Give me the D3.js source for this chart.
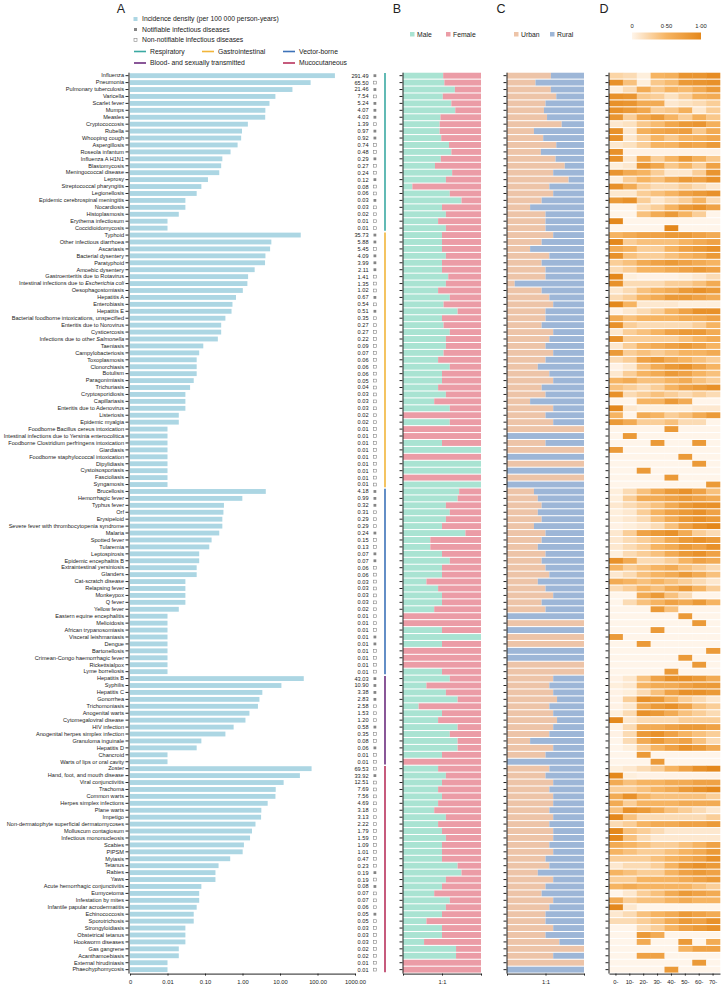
<!DOCTYPE html>
<html><head><meta charset="utf-8">
<script src="https://cdn.jsdelivr.net/npm/d3@7"></script>
<style>body{margin:0;background:#fff}svg{display:block;font-family:"Liberation Sans",Arial,sans-serif}</style>
</head><body><svg id="c" width="722" height="988"></svg>
<script>
const groups = ["Respiratory","Gastrointestinal","Vector-borne","Blood- and sexually transmitted","Mucocutaneous"];
const groupColors = ["#3aa9a2","#f1b53a","#3d72b8","#6b2c7e","#b8325c"];
const groupSizes = [23,37,27,13,30];
const diseases = [
"Influenza","Pneumonia","Pulmonary tuberculosis","Varicella","Scarlet fever","Mumps","Measles","Cryptococcosis","Rubella","Whooping cough","Aspergillosis","Roseola infantum","Influenza A H1N1","Blastomycosis","Meningococcal disease","Leprosy","Streptococcal pharyngitis","Legionellosis","Epidemic cerebrospinal meningitis","Nocardiosis","Histoplasmosis","Erythema infectiosum","Coccidioidomycosis",
"Typhoid","Other infectious diarrhoea","Ascariasis","Bacterial dysentery","Paratyphoid","Amoebic dysentery","Gastroenteritis due to Rotavirus","Intestinal infections due to *Escherichia coli*","Oesophagostomiasis","Hepatitis A","Enterobiasis","Hepatitis E","Bacterial foodborne intoxications, unspecified","Enteritis due to Norovirus","Cysticercosis","Infections due to other *Salmonella*","Taeniasis","Campylobacteriosis","Toxoplasmosis","Clonorchiasis","Botulism","Paragonimiasis","Trichuriasis","Cryptosporidiosis","Capillariasis","Enteritis due to Adenovirus","Listeriosis","Epidemic myalgia","Foodborne Bacillus cereus intoxication","Intestinal infections due to Yersinia enterocolitica","Foodborne Clostridium perfringens intoxication","Giardiasis","Foodborne staphylococcal intoxication","Dipylidiasis","Cystoisosporiasis","Fascioliasis","Syngamosis",
"Brucellosis","Hemorrhagic fever","Typhus fever","Orf","Erysipeloid","Severe fever with thrombocytopenia syndrome","Malaria","Spotted fever","Tularemia","Leptospirosis","Epidemic encephalitis B","Extraintestinal yersiniosis","Glanders","Cat-scratch disease","Relapsing fever","Monkeypox","Q fever","Yellow fever","Eastern equine encephalitis","Melioidosis","African trypanosomiasis","Visceral leishmaniasis","Dengue","Bartonellosis","Crimean-Congo haemorrhagic fever","Rickettsialpox","Lyme borreliosis",
"Hepatitis B","Syphilis","Hepatitis C","Gonorrhea","Trichomoniasis","Anogenital warts","Cytomegaloviral disease","HIV infection","Anogenital herpes simplex infection","Granuloma inguinale","Hepatitis D","Chancroid","Warts of lips or oral cavity",
"Zoster","Hand, foot, and mouth disease","Viral conjunctivitis","Trachoma","Common warts","Herpes simplex infections","Plane warts","Impetigo","Non-dermatophyte superficial dermatomycoses","Molluscum contagiosum","Infectious mononucleosis","Scabies","PIPSM","Myiasis","Tetanus","Rabies","Yaws","Acute hemorrhagic conjunctivitis","Eumycetoma","Infestation by mites","Infantile papular acrodermatitis","Echinococcosis","Sporotrichosis","Strongyloidiasis","Obstetrical tetanus","Hookworm diseases","Gas gangrene","Acanthamoebiasis","External hirudiniasis","Phaeohyphomycosis"];
const incidence = [
291.49,65.50,21.46,7.54,5.24,4.07,4.03,1.39,0.97,0.92,0.74,0.48,0.29,0.27,0.24,0.12,0.08,0.06,0.03,0.03,0.02,0.01,0.01,
35.73,5.88,5.45,4.09,3.99,2.11,1.41,1.35,1.02,0.67,0.54,0.51,0.35,0.27,0.27,0.22,0.09,0.07,0.06,0.06,0.06,0.05,0.04,0.03,0.03,0.03,0.02,0.02,0.01,0.01,0.01,0.01,0.01,0.01,0.01,0.01,0.01,
4.18,0.99,0.32,0.31,0.29,0.29,0.24,0.15,0.13,0.07,0.07,0.06,0.06,0.03,0.03,0.03,0.03,0.02,0.01,0.01,0.01,0.01,0.01,0.01,0.01,0.01,0.01,
43.03,10.90,3.38,2.83,2.58,1.53,1.20,0.58,0.35,0.08,0.06,0.01,0.01,
69.53,33.92,12.51,7.69,7.56,4.69,3.18,3.13,2.22,1.79,1.59,1.09,1.01,0.47,0.23,0.19,0.19,0.08,0.07,0.07,0.06,0.05,0.05,0.03,0.03,0.03,0.02,0.02,0.01,0.01];
const notifiable = [
1,0,1,0,1,1,1,0,1,1,0,0,1,0,0,1,0,0,1,0,0,0,0,
1,1,0,1,1,1,0,0,0,1,0,1,0,0,0,0,0,0,0,0,0,0,0,0,0,0,0,0,0,0,0,0,0,0,0,0,0,
1,1,1,0,0,0,1,0,0,1,1,0,0,0,0,0,0,0,0,0,0,1,1,0,0,0,0,
1,1,1,1,0,0,0,1,0,0,1,0,0,
0,1,0,0,0,0,0,0,0,0,0,0,0,0,0,1,0,1,0,0,0,1,0,0,0,0,0,0,0,0];
const maleShare = [
0.515,0.53,0.665,0.51,0.62,0.67,0.48,0.47,0.47,0.49,0.59,0.62,0.485,0.41,0.63,0.55,0.12,0.6,0.75,0.5,0.55,0.45,0.55,
0.5,0.5,0.5,0.55,0.5,0.5,0.58,0.55,0.45,0.6,0.52,0.7,0.5,0.52,0.6,0.55,0.55,0.52,0.45,0.6,0.5,0.5,0.45,0.55,0.4,0.6,0,0.6,0,0,0.5,1,0,1,1,0,1,
0.72,0.7,0.55,0.6,0.55,0.5,0.8,0.35,0.35,0.5,0.6,0.5,0.5,0.3,0.45,0.5,0.5,0.4,0,0,0.5,1,0.5,0,0,0,0.5,
0.6,0.3,0.55,0.7,0.2,0.5,0.45,0.7,0.6,0.7,0.7,0.5,0,
0.45,0.55,0.5,0.45,0.5,0.45,0.4,0.55,0.45,0.5,0.55,0.5,0.5,0.5,0.7,0.75,0.55,0.5,0.4,0.6,0.55,0.5,0.3,0.5,0.5,0.27,0.68,0.68,0,0];
const urbanShare = [
0.57,0.37,0.57,0.64,0.5,0.48,0.52,0.71,0.35,0.47,0.64,0.44,0.63,0.75,0.6,0.8,0.55,0.6,0.45,0.3,0.5,0.5,0.5,
0.6,0.45,0.3,0.55,0.45,0.5,0.5,0.1,0.45,0.55,0.6,0.5,0.5,0.45,0.6,0.55,0.5,0.6,0.5,0.4,0.55,0.6,0.45,0.5,0.3,0.6,0.5,0.6,1,0,0.5,1,0,1,0,1,0,
0.35,0.4,0.45,0.4,0.45,0.35,0.5,0.45,0.4,0.5,0.45,0.5,0.55,0.4,0.5,0.6,0.45,0.5,0,1,0,1,1,0,0,1,1,
0.6,0.55,0.6,0.65,0.55,0.6,0.65,0.6,0.55,0.3,0.6,0.5,0,
0.55,0.5,0.6,0.55,0.6,0.6,0.55,0.6,0.55,0.6,0.6,0.55,0.6,0.5,0.55,0.4,0.6,0.5,0.45,0.6,0.55,0.5,0.5,0.6,0.5,0.68,1,0.6,1,0];
const ageGroups = ["0-","10-","20-","30-","40-","50-","60-","70-"];
const ageDensity = [
[0.25,0.2,0.05,0.5,0.55,0.85,0.85,0.95],[0.9,0.4,0.05,0.35,0.45,0.8,0.85,0.9],[0.05,0.2,0.6,0.35,0.5,0.45,0.6,0.8],[0.9,0.85,0.35,0.3,0.15,0.3,0.55,0.6],[0.9,0.85,0.6,0.6,0.1,0.15,0.2,0.3],[0.9,0.8,0.65,0.3,0.35,0.55,0.1,0.3],[0.85,0.3,0.65,0.8,0.5,0.3,0.55,0.35],[0.1,0.15,0.35,0.45,0.65,0.8,0.85,0.55],[0.9,0.1,0.55,0.65,0.7,0.75,0.35,0.6],[0.9,0.1,0.3,0.5,0.35,0.5,0.55,0.65],[0.1,0.15,0.3,0.5,0.5,0.7,0.65,0.8],[0.9,0.02,0.02,0.02,0.02,0.02,0.02,0.02],[0.9,0.1,0.65,0.3,0.5,0.8,0.55,0.35],[0.05,0.1,0.85,0.65,0.35,0.5,0.3,0.7],[0.85,0.6,0.5,0.3,0.1,0.1,0.3,0.85],[0.05,0.3,0.5,0.4,0.6,0.8,0.7,0.9],[0.9,0.6,0.3,0.2,0.2,0.3,0.2,0.1],[0.1,0.1,0.3,0.4,0.5,0.7,0.8,0.9],[0.8,0.9,0.3,0.1,0.2,0.3,0.5,0.2],[0,0,0.2,0.3,0.5,0.8,0.9,0.7],[0,0,0.4,0.6,0.8,0.5,0.3,0],[1,0,0,0,0,0,0,0],[0,0,0,0,1,0,0,0],
[0.5,0.6,0.7,0.7,0.8,0.8,0.7,0.6],[1,0.3,0.4,0.4,0.4,0.5,0.6,0.7],[0.6,0.5,0.3,0.3,0.5,0.7,0.8,0.9],[0.9,0.4,0.3,0.3,0.4,0.5,0.6,0.8],[0.3,0.4,0.6,0.7,0.8,0.7,0.6,0.5],[0.2,0.3,0.5,0.5,0.6,0.7,0.8,0.7],[1,0.05,0.02,0.02,0.02,0.05,0.1,0.2],[0.9,0.2,0.2,0.2,0.3,0.3,0.4,0.6],[0.1,0.2,0.4,0.5,0.6,0.8,0.9,0.8],[0.2,0.3,0.5,0.6,0.8,0.8,0.7,0.6],[1,0.5,0.1,0.1,0.1,0.05,0.05,0.05],[0.02,0.1,0.2,0.3,0.5,0.7,0.9,0.9],[0.6,0.4,0.5,0.5,0.5,0.6,0.6,0.7],[0.9,0.3,0.2,0.2,0.2,0.2,0.3,0.5],[0.1,0.3,0.4,0.5,0.7,0.8,0.8,0.6],[0.9,0.3,0.3,0.3,0.3,0.4,0.5,0.6],[0.1,0.3,0.5,0.6,0.7,0.8,0.7,0.5],[0.8,0.3,0.4,0.3,0.4,0.5,0.5,0.6],[0.2,0.3,0.7,0.8,0.6,0.5,0.4,0.3],[0.02,0.1,0.4,0.6,0.8,0.9,0.7,0.5],[0.1,0.3,0.5,0.6,0.8,0.7,0.5,0.4],[0.5,0.6,0.4,0.4,0.5,0.6,0.4,0.3],[0.4,0.3,0.2,0.3,0.5,0.7,0.8,0.9],[0.9,0.2,0.3,0.4,0.3,0.2,0.3,0.2],[0,0,0.5,0.5,0.8,0.6,0,0],[1,0.1,0.05,0.05,0.05,0.05,0.1,0.1],[0.5,0,0.6,0.5,0.3,0.4,0.6,0.8],[0.8,0.6,0.3,0.3,0.4,0.2,0.2,0],[0,0,0,0,0.8,0,0,0],[0,0.8,0,0,0,0,0,0],[0,0,0,0.8,0,0,0.8,0],[0.8,0,0,0,0,0,0,0],[0,0,0,0,0,0.8,0,0],[0,0,0,0,0,0,0.8,0],[0,0,0.8,0,0,0,0,0],[0,0,0,0,0.8,0,0,0],[0,0,0,0,0,0,0,0.8],
[0.05,0.2,0.4,0.6,0.8,0.9,0.7,0.4],[0.05,0.3,0.6,0.6,0.7,0.8,0.7,0.6],[0.1,0.2,0.3,0.4,0.6,0.8,0.9,0.9],[0.05,0.1,0.3,0.5,0.7,0.8,0.9,0.7],[0.05,0.1,0.2,0.4,0.6,0.8,0.9,0.8],[0.02,0.05,0.1,0.2,0.4,0.7,0.9,1],[0.1,0.3,0.7,0.8,0.9,0.6,0.3,0.2],[0.1,0.2,0.3,0.4,0.6,0.8,0.9,0.8],[0.1,0.2,0.3,0.5,0.6,0.8,0.7,0.9],[0.05,0.2,0.3,0.4,0.6,0.8,0.9,0.7],[0.9,0.6,0.2,0.2,0.3,0.5,0.7,0.6],[0.5,0.3,0.4,0.5,0.6,0.4,0.3,0.2],[0.1,0.2,0.4,0.5,0.6,0.8,0.6,0.4],[0.6,0.5,0.4,0.5,0.4,0.3,0.2,0.1],[0.2,0.3,0.5,0.4,0.6,0.8,0.5,0.3],[0,0,0.6,0.8,0.4,0.2,0,0],[0,0.2,0.4,0.5,0.7,0.6,0.8,0.5],[0,0,0,0.8,0.4,0,0,0],[0,0,0,0,0,0.8,0,0],[0,0,0,0,0,0,0.8,0],[0,0,0,0.8,0,0,0,0],[0.8,0,0,0,0,0,0,0],[0,0,0.8,0,0,0,0,0],[0,0,0,0,0,0,0,0.8],[0,0,0,0,0,0.8,0,0],[0,0,0,0,0,0,0.8,0],[0,0,0,0,0.8,0,0,0],
[0.02,0.1,0.4,0.7,0.9,0.9,0.8,0.6],[0.05,0.1,0.5,0.6,0.6,0.7,0.8,0.8],[0.02,0.05,0.2,0.4,0.7,0.9,0.9,0.8],[0.02,0.3,0.9,0.8,0.5,0.3,0.2,0.1],[0.02,0.1,0.6,0.8,0.9,0.7,0.4,0.3],[0.05,0.2,0.9,0.8,0.6,0.4,0.3,0.2],[1,0.1,0.2,0.2,0.2,0.3,0.3,0.3],[0.02,0.2,0.6,0.6,0.7,0.8,0.8,0.7],[0.02,0.2,0.8,0.9,0.7,0.5,0.4,0.3],[0,0.2,0.6,0.8,0.6,0.7,0.4,0.2],[0,0.05,0.3,0.5,0.7,0.9,0.8,0.6],[0,0,0.8,0,0,0,0,0],[0,0,0,0.8,0,0,0,0],
[0.05,0.1,0.2,0.3,0.5,0.7,0.9,1],[1,0.05,0.02,0.02,0.02,0.02,0.02,0.02],[0.6,0.4,0.5,0.5,0.6,0.6,0.7,0.7],[0.3,0.3,0.4,0.5,0.6,0.8,0.9,1],[0.6,0.9,0.5,0.4,0.4,0.4,0.4,0.3],[0.6,0.3,0.5,0.5,0.5,0.6,0.6,0.6],[0.4,0.9,0.8,0.6,0.4,0.3,0.2,0.1],[1,0.4,0.2,0.2,0.2,0.2,0.2,0.3],[0.2,0.3,0.5,0.6,0.6,0.7,0.7,0.8],[1,0.4,0.3,0.2,0.1,0.1,0.1,0.1],[1,0.4,0.2,0.1,0.1,0.1,0.1,0.1],[0.6,0.5,0.4,0.3,0.3,0.4,0.5,0.7],[0.5,0.4,0.3,0.3,0.4,0.5,0.6,0.8],[0.3,0.3,0.3,0.4,0.5,0.6,0.7,0.9],[0.1,0.2,0.2,0.3,0.5,0.8,0.9,0.8],[0.5,0.4,0.3,0.3,0.5,0.7,0.8,0.7],[0.3,0.3,0.5,0.5,0.5,0.6,0.7,0.8],[0.5,0.6,0.5,0.5,0.5,0.5,0.4,0.3],[0,0.1,0.3,0.4,0.6,0.8,0.7,0.6],[0.6,0.3,0.4,0.4,0.5,0.6,0.5,0.5],[1,0.1,0,0,0,0,0,0],[0.1,0.2,0.4,0.5,0.6,0.8,0.7,0.6],[0.2,0.2,0.3,0.4,0.6,0.8,0.7,0.9],[0,0,0.2,0.3,0.5,0.7,0.8,0.9],[0,0,0.8,0.6,0,0,0,0],[0,0,0.6,0,0,0.8,0,0.6],[0,0,0,0,0,0.5,0.7,0.7],[0,0,0.7,0.7,0,0,0,0],[0,0,0,0,0,0,0.8,0],[0,0,0,0,0.8,0,0,0]];
const xTicks = [0.001,0.01,0.1,1,10,100,1000];
const xTickLabels = ["0","0.01","0.10","1.00","10.00","100.00","1000.00"];
const legendTicks = [0,0.5,1];
const legendTickLabels = ["0","0·50","1·00"];

const svg = d3.select("#c");
const N = diseases.length;
const yA = d3.scaleBand().domain(d3.range(N)).range([72.2,973.1]).paddingInner(0.3).paddingOuter(0.15);
const yP = yA.copy().paddingInner(0.15).paddingOuter(0.075);
const xA = d3.scaleLog().domain([0.001,1000]).range([130,355]);
const xB = d3.scaleLinear().domain([0,1]).range([403,481]);
const xC = d3.scaleLinear().domain([0,1]).range([507,584]);
const xD = d3.scaleBand().domain(ageGroups).range([609,720]);
const colD = d3.scaleLinear().domain([0,0.5,1]).range(["#fff5ea","#f6b462","#e4881c"]);
const cBar="#acd6e3", cMale="#a9e3d2", cFemale="#eb9ca6", cUrban="#edc4a8", cRural="#9db6d7";
const txt="#222";

svg.append("g").selectAll("rect").data(incidence).join("rect")
  .attr("x",xA(0.001)).attr("y",(d,i)=>yA(i)).attr("height",yA.bandwidth())
  .attr("width",d=>xA(d)-xA(0.001)).attr("fill",cBar);
const axA = svg.append("g").attr("transform","translate(128.5,0)")
  .call(d3.axisLeft(yA).tickSize(3).tickSizeOuter(0).tickPadding(1.5).tickFormat(i=>diseases[i]));
axA.attr("font-size",5.6).attr("font-family",null);
axA.selectAll("path,line").attr("stroke",txt);
axA.selectAll("text").attr("fill",txt).each(function(i){
  const s=diseases[i]; if(s.indexOf("*")<0) return;
  const t=d3.select(this); t.text(null);
  s.split("*").forEach((p,k)=>{ if(p) t.append("tspan").attr("font-style",k%2?"italic":null).text(p); });
});
const bA = svg.append("g").attr("transform","translate(0,973.6)")
  .call(d3.axisBottom(xA).tickValues(xTicks).tickFormat((d,i)=>xTickLabels[i]).tickSize(2).tickSizeOuter(0).tickPadding(4));
bA.attr("font-size",5.8).attr("font-family",null);
bA.selectAll("path,line").attr("stroke",txt); bA.selectAll("text").attr("fill",txt);
svg.append("g").selectAll("text").data(incidence).join("text")
  .attr("x",368.5).attr("y",(d,i)=>yA(i)+yA.bandwidth()/2).attr("dy","0.35em")
  .attr("text-anchor","end").attr("font-size",5.6).attr("fill",txt).text(d=>d3.format(".2f")(d));
svg.append("g").selectAll("rect").data(notifiable).join("rect")
  .attr("x",373.5).attr("y",(d,i)=>yA(i)+yA.bandwidth()/2-1.4).attr("width",2.8).attr("height",2.8)
  .attr("fill",d=>d?"#858585":"#fff").attr("stroke","#858585").attr("stroke-width",d=>d?0:0.6);
let start=0;
groupSizes.forEach((n,g)=>{
  svg.append("line").attr("x1",385).attr("x2",385)
    .attr("y1",yP(start)+0.3).attr("y2",yP(start+n-1)+yP.bandwidth()-0.3)
    .attr("stroke",groupColors[g]).attr("stroke-width",1.6);
  start+=n;
});
const gB=svg.append("g");
gB.selectAll("rect.m").data(maleShare).join("rect").attr("class","m")
  .attr("x",xB(0)).attr("y",(d,i)=>yP(i)).attr("height",yP.bandwidth()).attr("width",d=>xB(d)-xB(0)).attr("fill",cMale);
gB.selectAll("rect.f").data(maleShare).join("rect").attr("class","f")
  .attr("x",d=>xB(d)).attr("y",(d,i)=>yP(i)).attr("height",yP.bandwidth()).attr("width",d=>xB(1)-xB(d)).attr("fill",cFemale);
const gC=svg.append("g");
gC.selectAll("rect.u").data(urbanShare).join("rect").attr("class","u")
  .attr("x",xC(0)).attr("y",(d,i)=>yP(i)).attr("height",yP.bandwidth()).attr("width",d=>xC(d)-xC(0)).attr("fill",cUrban);
gC.selectAll("rect.r").data(urbanShare).join("rect").attr("class","r")
  .attr("x",d=>xC(d)).attr("y",(d,i)=>yP(i)).attr("height",yP.bandwidth()).attr("width",d=>xC(1)-xC(d)).attr("fill",cRural);
const gD=svg.append("g");
ageDensity.forEach((row,i)=>{
  gD.selectAll(null).data(row).join("rect")
    .attr("x",(d,j)=>xD(ageGroups[j])).attr("width",xD.bandwidth()+0.3)
    .attr("y",yP(i)).attr("height",yP.bandwidth()).attr("fill",d=>colD(d));
});
[402.5,506.5,608.5].forEach(x=>{
  const a=svg.append("g").attr("transform",`translate(${x},0)`)
    .call(d3.axisLeft(yA).tickSize(3).tickSizeOuter(0).tickFormat(""));
  a.selectAll("path,line").attr("stroke",txt);
});
[xB,xC].forEach(sc=>{
  const a=svg.append("g").attr("transform","translate(0,973.6)")
    .call(d3.axisBottom(sc).tickValues([0,0.5,1]).tickFormat(d=>d===0.5?"1:1":"").tickSize(2).tickSizeOuter(0).tickPadding(4));
  a.attr("font-size",5.8).attr("font-family",null);
  a.selectAll("path,line").attr("stroke",txt); a.selectAll("text").attr("fill",txt);
});
const aD=svg.append("g").attr("transform","translate(0,973.6)")
  .call(d3.axisBottom(xD).tickSize(2).tickSizeOuter(0).tickPadding(4));
aD.attr("font-size",5.8).attr("font-family",null);
aD.selectAll("path,line").attr("stroke",txt); aD.selectAll("text").attr("fill",txt);

[["A",121],["B",397],["C",501],["D",604]].forEach(([l,x])=>{
  svg.append("text").attr("x",x).attr("y",12.5).attr("text-anchor","middle").attr("font-size",12.5).attr("fill",txt).text(l);
});
const LF=6.8;
const lg=svg.append("g").attr("font-size",LF).attr("fill",txt);
lg.append("rect").attr("x",133.5).attr("y",17).attr("width",4).attr("height",4).attr("fill",cBar);
lg.append("text").attr("x",142).attr("y",19).attr("dy","0.35em").text("Incidence density (per 100 000 person-years)");
lg.append("rect").attr("x",134).attr("y",28).attr("width",3).attr("height",3).attr("fill","#858585");
lg.append("text").attr("x",142).attr("y",29.5).attr("dy","0.35em").text("Notifiable infectious diseases");
lg.append("rect").attr("x",134).attr("y",38.5).attr("width",3).attr("height",3).attr("fill","#fff").attr("stroke","#858585").attr("stroke-width",0.6);
lg.append("text").attr("x",142).attr("y",40).attr("dy","0.35em").text("Non-notifiable infectious diseases");
const lineLeg=[[0,134,51.5],[1,202,51.5],[2,283,51.5],[3,134,63],[4,283,63]];
lineLeg.forEach(([g,x,y])=>{
  lg.append("line").attr("x1",x).attr("x2",x+12).attr("y1",y).attr("y2",y).attr("stroke",groupColors[g]).attr("stroke-width",1.6);
  lg.append("text").attr("x",x+16).attr("y",y).attr("dy","0.35em").text(groups[g]);
});
[[410,"Male",cMale],[446,"Female",cFemale],[514,"Urban",cUrban],[550,"Rural",cRural]].forEach(([x,t,c])=>{
  lg.append("rect").attr("x",x).attr("y",32).attr("width",4.5).attr("height",4.5).attr("fill",c);
  lg.append("text").attr("x",x+7).attr("y",34.3).attr("dy","0.35em").text(t);
});
const defs=svg.append("defs");
const grad=defs.append("linearGradient").attr("id","gD");
d3.range(0,1.01,0.1).forEach(t=>grad.append("stop").attr("offset",t).attr("stop-color",colD(t)));
const xL=d3.scaleLinear().domain([0,1]).range([632,701]);
svg.append("rect").attr("x",xL(0)).attr("y",32.5).attr("width",xL(1)-xL(0)).attr("height",7).attr("fill","url(#gD)");
svg.append("g").selectAll("text").data(legendTicks).join("text")
  .attr("x",d=>xL(d)).attr("y",28).attr("text-anchor","middle").attr("font-size",5.8).attr("fill",txt)
  .text((d,i)=>legendTickLabels[i]);
</script></body></html>
